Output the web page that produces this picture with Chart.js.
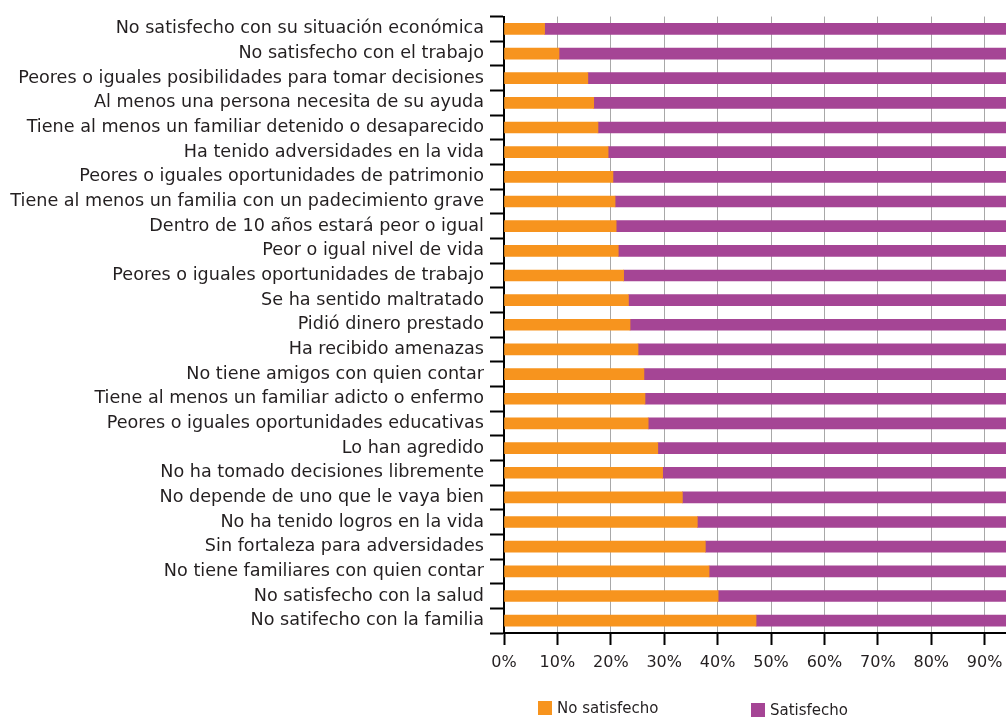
<!DOCTYPE html>
<html>
<head>
<meta charset="utf-8">
<script src="https://cdn.jsdelivr.net/npm/chart.js@4.4.1/dist/chart.umd.min.js"></script>
<style>
  html, body { margin: 0; padding: 0; background: #fff; overflow: hidden; }
  #wrap { position: relative; width: 1006px; height: 719px; overflow: hidden; }
  #legend { position: absolute; left: 0; top: 0; font-family: "DejaVu Sans", sans-serif; font-size: 15px; color: #231f20; }
  .item { position: absolute; white-space: nowrap; }
  .box { position: absolute; width: 14px; height: 14px; }
  .lbl { position: absolute; line-height: 18px; }
</style>
</head>
<body>
<div id="wrap">
  <canvas id="c" width="1012" height="719"></canvas>
  <div id="legend"></div>
</div>
<script>
const categories = [
  "No satisfecho con su situación económica",
  "No satisfecho con el trabajo",
  "Peores o iguales posibilidades para tomar decisiones",
  "Al menos una persona necesita de su ayuda",
  "Tiene al menos un familiar detenido o desaparecido",
  "Ha tenido adversidades en la vida",
  "Peores o iguales oportunidades de patrimonio",
  "Tiene al menos un familia con un padecimiento grave",
  "Dentro de 10 años estará peor o igual",
  "Peor o igual nivel de vida",
  "Peores o iguales oportunidades de trabajo",
  "Se ha sentido maltratado",
  "Pidió dinero prestado",
  "Ha recibido amenazas",
  "No tiene amigos con quien contar",
  "Tiene al menos un familiar adicto o enfermo",
  "Peores o iguales oportunidades educativas",
  "Lo han agredido",
  "No ha tomado decisiones libremente",
  "No depende de uno que le vaya bien",
  "No ha tenido logros en la vida",
  "Sin fortaleza para adversidades",
  "No tiene familiares con quien contar",
  "No satisfecho con la salud",
  "No satifecho con la familia"
];
const noSatisfecho = [7.6, 10.3, 15.7, 16.8, 17.6, 19.5, 20.4, 20.8, 21.0, 21.4, 22.4, 23.3, 23.6, 25.1, 26.2, 26.4, 27.0, 28.8, 29.7, 33.4, 36.2, 37.7, 38.4, 40.1, 47.2];
const satisfecho   = [92.4, 89.7, 84.3, 83.2, 82.4, 80.5, 79.6, 79.2, 79.0, 78.6, 77.6, 76.7, 76.4, 74.9, 73.8, 73.6, 73.0, 71.2, 70.3, 66.6, 63.8, 62.3, 61.6, 59.9, 52.8];
const seriesNames = ["No satisfecho", "Satisfecho"];
const seriesColors = ["#F7941E", "#A54595"];
const xTickStep = 10;

const textColor = "#231f20";
const fontFamily = "'DejaVu Sans', sans-serif";

const chart = new Chart(document.getElementById("c"), {
  type: "bar",
  data: {
    labels: categories,
    datasets: [
      { label: seriesNames[0], data: noSatisfecho, backgroundColor: seriesColors[0], barThickness: 11 },
      { label: seriesNames[1], data: satisfecho, backgroundColor: seriesColors[1], barThickness: 11 }
    ]
  },
  options: {
    indexAxis: "y",
    responsive: false,
    animation: false,
    layout: { padding: { top: 14, left: 0, right: 6, bottom: 0 } },
    plugins: { legend: { display: false }, tooltip: { enabled: false } },
    scales: {
      x: {
        stacked: true,
        min: 0,
        max: 94,
        border: { color: "#000", width: 2 },
        grid: { color: "#a8a8a8", lineWidth: 1, tickColor: "#000", tickWidth: 2, tickLength: 12 },
        ticks: {
          stepSize: xTickStep,
          includeBounds: false,
          padding: 8,
          color: textColor,
          font: { family: fontFamily, size: 16 },
          callback: v => v + "%"
        },
        afterFit: s => { s.height = 86; s.paddingRight = 0; s.paddingLeft = 0; }
      },
      y: {
        stacked: true,
        border: { color: "#000", width: 2 },
        grid: { drawOnChartArea: false, tickColor: "#000", tickWidth: 2, tickLength: 14 },
        ticks: {
          padding: 6,
          color: textColor,
          autoSkip: false,
          font: { family: fontFamily, size: 17.6 }
        },
        afterFit: s => { s.width = 504; }
      }
    }
  }
});

// Legend (HTML)
const legend = document.getElementById("legend");
const legendPos = [[538, 701], [751, 703]];
seriesNames.forEach((name, i) => {
  const it = document.createElement("div");
  it.className = "item";
  it.style.left = legendPos[i][0] + "px";
  it.style.top = legendPos[i][1] + "px";
  const b = document.createElement("div");
  b.className = "box";
  b.style.background = seriesColors[i];
  const t = document.createElement("div");
  t.className = "lbl";
  t.style.left = "19px";
  t.style.top = "-2px";
  t.textContent = name;
  it.appendChild(b);
  it.appendChild(t);
  legend.appendChild(it);
});
</script>
</body>
</html>
